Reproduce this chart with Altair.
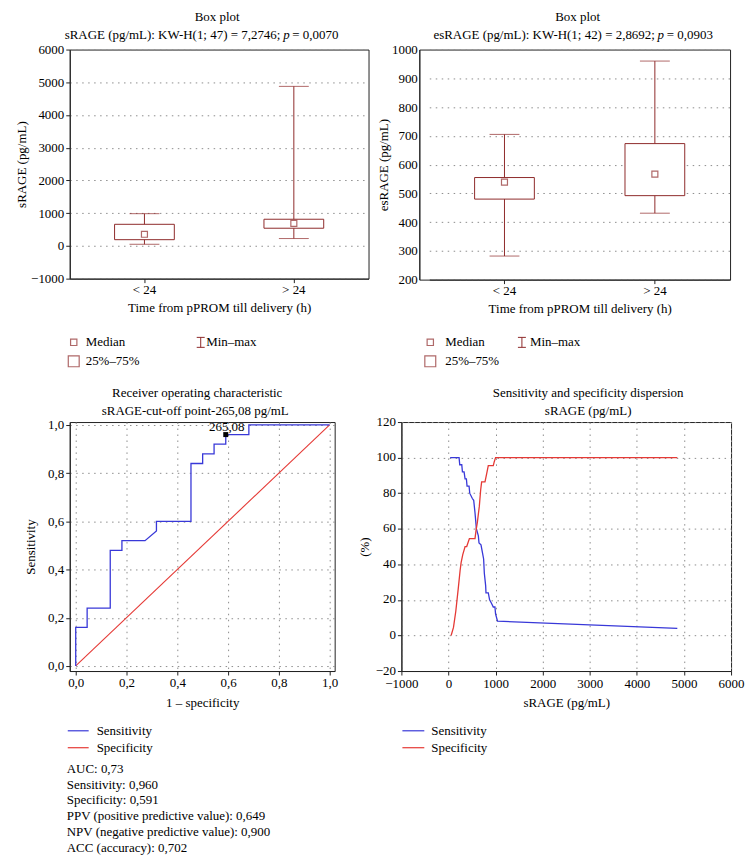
import altair as alt
import pandas as pd

FONT = "Liberation Serif"
BOX_COLOR = "#8E2A2A"
BLUE = "#3838D8"
RED = "#E53935"
GRID_COLOR = "#8c8c8c"
GRID_DASH = [1.5, 4.5]

# ---------------- data ----------------
groups = ["< 24", "> 24"]
srage_min = [50, 225]
srage_q1 = [190, 540]
srage_median = [355, 690]
srage_q3 = [660, 815]
srage_max = [985, 4875]

esrage_min = [282, 431]
esrage_q1 = [480, 492]
esrage_median = [539, 567]
esrage_q3 = [555, 673]
esrage_max = [705, 960]

roc_fpr = [0, 0, 0.045, 0.045, 0.136, 0.136, 0.182, 0.182, 0.273, 0.318, 0.318,
           0.454, 0.454, 0.5, 0.5, 0.545, 0.545, 0.591, 0.591, 0.682, 0.682, 1.0]
roc_tpr = [0, 0.16, 0.16, 0.24, 0.24, 0.48, 0.48, 0.52, 0.52, 0.56, 0.60,
           0.60, 0.84, 0.84, 0.88, 0.88, 0.92, 0.92, 0.96, 0.96, 1.0, 1.0]
cutoff_fpr = [0.591]
cutoff_tpr = [0.96]
cutoff_label = ["265,08"]

sens_srage = [35, 225, 239, 282, 296, 331, 352, 380, 394, 437, 451, 507, 535, 563, 592,
              634, 648, 690, 718, 746, 761, 789, 796, 845, 873, 915, 951, 986, 1000, 1042, 4859]
sens_pct = [100, 100, 96, 96, 92, 92, 88, 88, 84, 84, 80, 77, 76, 69, 60,
            56, 52, 51, 47, 43, 35, 28, 24, 24, 20, 18, 16, 16, 12, 8, 4]
spec_srage = [56, 106, 155, 211, 246, 268, 303, 352, 387, 444, 563, 585, 613, 634, 655,
              683, 704, 775, 810, 845, 951, 972, 1000, 4859]
spec_pct = [0, 4.5, 13.6, 27.3, 36.4, 40.9, 45.5, 50, 50, 54.5, 54.5, 59.1, 63.6, 68.2, 72.7,
            81.8, 86.4, 86.4, 90.9, 95.5, 95.5, 97.7, 100, 100]

stats_lines = [
    "AUC: 0,73",
    "Sensitivity: 0,960",
    "Specificity: 0,591",
    "PPV (positive predictive value): 0,649",
    "NPV (negative predictive value): 0,900",
    "ACC (accuracy): 0,702",
]

dummy = pd.DataFrame({"k": [0]})


def txt(text, x, y, size=13, align="center", style="normal", baseline="middle", **kw):
    return alt.Chart(dummy).mark_text(
        text=text, font=FONT, fontSize=size, align=align, baseline=baseline,
        fontStyle=style, color="black", **kw
    ).encode(x=alt.value(x), y=alt.value(y))


def seg(x, x2, y, y2, color, width=1.0):
    return alt.Chart(dummy).mark_rule(color=color, strokeWidth=width).encode(
        x=alt.value(x), x2=alt.value(x2), y=alt.value(y), y2=alt.value(y2))


def sq(x, y, size):
    return alt.Chart(dummy).mark_square(size=size, filled=False, color=BOX_COLOR,
                                        strokeWidth=1.2).encode(x=alt.value(x), y=alt.value(y))


def box_panel(mins, q1, med, q3, maxs, ydomain, ystep, ytitle, width, height,
              part1, part3, p_x, title_x, leg, xrange, yaxis_opts):
    df = pd.DataFrame({"group": groups, "vmin": mins, "q1": q1, "med": med,
                       "q3": q3, "vmax": maxs})
    xenc = alt.X("group:N", sort=groups,
                 scale=alt.Scale(domain=groups, paddingInner=0, paddingOuter=0, range=xrange),
                 axis=alt.Axis(title="Time from pPROM till delivery (h)", labelAngle=0,
                               grid=False, labelPadding=1, titlePadding=5))
    ysc = alt.Scale(domain=ydomain, nice=False, zero=False)
    yax = alt.Axis(values=list(range(ydomain[0], ydomain[1] + 1, ystep)), format="d",
                   title=ytitle, grid=True, **yaxis_opts)
    base = alt.Chart(df)
    whisker = base.mark_rule(color=BOX_COLOR, strokeWidth=1).encode(
        x=xenc, y=alt.Y("vmin:Q", scale=ysc, axis=yax), y2="vmax:Q")
    box = base.mark_bar(width=60, fill="white", stroke=BOX_COLOR, strokeWidth=1).encode(
        x=xenc, y=alt.Y("q1:Q", scale=ysc, axis=yax), y2="q3:Q")
    cap_lo = base.mark_tick(size=30, thickness=1, orient="horizontal", color=BOX_COLOR).encode(
        x=xenc, y=alt.Y("vmin:Q", scale=ysc, axis=yax))
    cap_hi = base.mark_tick(size=30, thickness=1, orient="horizontal", color=BOX_COLOR).encode(
        x=xenc, y=alt.Y("vmax:Q", scale=ysc, axis=yax))
    median = base.mark_square(size=36, filled=False, fill="white", color=BOX_COLOR,
                              strokeWidth=1.2).encode(
        x=xenc, y=alt.Y("med:Q", scale=ysc, axis=yax))

    sqx, txx, ix, itx = leg
    ly1, ly2 = 294, 313
    layers = [
        whisker, box, cap_lo, cap_hi, median,
        txt("Box plot", title_x, -33),
        txt(part1, p_x - 6, -15, align="right"),
        txt("p", p_x, -15, style="italic"),
        txt(part3, p_x + 6, -15, align="left"),
        # legend
        sq(sqx, ly1, 40), txt("Median", txx, ly1, align="left"),
        sq(sqx, ly2, 120), txt("25%\u201375%", txx, ly2, align="left"),
        seg(ix, ix, ly1 - 5, ly1 + 5, BOX_COLOR), seg(ix - 4, ix + 4, ly1 - 5, ly1 - 5, BOX_COLOR),
        seg(ix - 4, ix + 4, ly1 + 5, ly1 + 5, BOX_COLOR),
        txt("Min\u2013max", itx, ly1, align="left"),
    ]
    return alt.layer(*layers).properties(width=width, height=height)


tl = box_panel(srage_min, srage_q1, srage_median, srage_q3, srage_max,
               [-1000, 6000], 1000, "sRAGE (pg/mL)", 300, 230,
               "sRAGE (pg/mL): KW-H(1; 47) = 7,2746;", "= 0,0070", 217.5, 148,
               (4, 16, 131.5, 137), [0, 300], {"titlePadding": 2})
tr = box_panel(esrage_min, esrage_q1, esrage_median, esrage_q3, esrage_max,
               [200, 1000], 100, "esRAGE (pg/mL)", 312, 231,
               "esRAGE (pg/mL): KW-H(1; 42) = 2,8692;", "= 0,0903", 242.5, 159,
               (11, 26, 103, 111), [10, 312],
               {"titlePadding": 1, "tickSize": 0, "labelPadding": 2})

# ---------------- ROC ----------------
comma_fmt = "replace(format(datum.value, '.1f'), '.', ',')"
roc_df = pd.DataFrame({"fpr": roc_fpr, "tpr": roc_tpr, "i": list(range(len(roc_fpr)))})
rxs = alt.Scale(domain=[-0.0235, 1.02], nice=False, zero=False)
rys = alt.Scale(domain=[-0.021, 1.012], nice=False, zero=False)
ticks01 = [0, 0.2, 0.4, 0.6, 0.8, 1.0]
rxa = alt.Axis(values=ticks01, labelExpr=comma_fmt, title="1 \u2013 specificity", grid=True,
               titlePadding=7)
rya = alt.Axis(values=ticks01, labelExpr=comma_fmt, title="Sensitivity", grid=True,
               titlePadding=10)

roc_line = alt.Chart(roc_df).mark_line(color=BLUE, strokeWidth=1.3).encode(
    x=alt.X("fpr:Q", scale=rxs, axis=rxa), y=alt.Y("tpr:Q", scale=rys, axis=rya),
    order="i:Q")
diag = alt.Chart(pd.DataFrame({"fpr": [0, 1], "tpr": [0, 1]})).mark_line(
    color=RED, strokeWidth=1.1).encode(
    x=alt.X("fpr:Q", scale=rxs, axis=rxa), y=alt.Y("tpr:Q", scale=rys, axis=rya))
cut_df = pd.DataFrame({"fpr": cutoff_fpr, "tpr": cutoff_tpr, "lab": cutoff_label})
cut_pt = alt.Chart(cut_df).mark_square(size=25, color="black", opacity=1).encode(
    x=alt.X("fpr:Q", scale=rxs, axis=rxa), y=alt.Y("tpr:Q", scale=rys, axis=rya))
cut_txt = alt.Chart(cut_df).mark_text(font=FONT, fontSize=13, dy=-8, dx=1,
                                      color="black").encode(
    x=alt.X("fpr:Q", scale=rxs, axis=rxa), y=alt.Y("tpr:Q", scale=rys, axis=rya),
    text="lab:N")

bl = alt.layer(
    diag, roc_line, cut_pt, cut_txt,
    txt("Receiver operating characteristic", 128, -29),
    txt("sRAGE-cut-off point-265,08 pg/mL", 126, -11),
    seg(-2, 19, 310, 310, BLUE, 1.2), txt("Sensitivity", 27, 310, align="left"),
    seg(-2, 19, 327, 327, RED, 1.2), txt("Specificity", 27, 327, align="left"),
    txt(stats_lines, -3, 342, align="left", baseline="top", lineHeight=16),
).properties(width=266, height=250)

# ---------------- Sensitivity / specificity dispersion ----------------
disp_df = pd.concat([
    pd.DataFrame({"srage": sens_srage, "pct": sens_pct, "series": "Sensitivity",
                  "i": list(range(len(sens_srage)))}),
    pd.DataFrame({"srage": spec_srage, "pct": spec_pct, "series": "Specificity",
                  "i": list(range(len(spec_srage)))}),
])
dxs = alt.Scale(domain=[-1000, 6000], nice=False, zero=False)
dys = alt.Scale(domain=[-20, 120], nice=False, zero=False)
disp_lines = alt.Chart(disp_df).mark_line(strokeWidth=1.3).encode(
    x=alt.X("srage:Q", scale=dxs,
            axis=alt.Axis(values=list(range(-1000, 6001, 1000)), format="d",
                          title="sRAGE (pg/mL)", grid=True, labelPadding=3, titlePadding=6)),
    y=alt.Y("pct:Q", scale=dys,
            axis=alt.Axis(values=list(range(-20, 121, 20)), format="d", title="(%)",
                          grid=True, labelOffset=-1)),
    color=alt.Color("series:N", scale=alt.Scale(domain=["Sensitivity", "Specificity"],
                                                range=[BLUE, RED]), legend=None),
    order="i:Q")

br = alt.layer(
    disp_lines,
    txt("Sensitivity and specificity dispersion", 187.5, -29),
    txt("sRAGE (pg/mL)", 187.5, -11),
    seg(1, 23, 310, 310, BLUE, 1.2), txt("Sensitivity", 30, 310, align="left"),
    seg(1, 23, 327, 327, RED, 1.2), txt("Specificity", 30, 327, align="left"),
).properties(width=331, height=250)

top_row = alt.hconcat(tl, tr, spacing=51, bounds="flush")
bottom_row = alt.hconcat(bl, br, spacing=67, bounds="flush")

chart = alt.vconcat(top_row, bottom_row, spacing=374, bounds="flush").properties(
    padding={"left": 7, "top": 0, "right": 0, "bottom": 0},
    background="white",
).configure_view(
    stroke="#222", strokeWidth=1
).configure_axis(
    labelFont=FONT, titleFont=FONT, labelFontSize=13, titleFontSize=13,
    titleFontWeight="normal", labelColor="black", titleColor="black",
    domainColor="#222", tickColor="#222", tickSize=4,
    gridColor=GRID_COLOR, gridDash=GRID_DASH, gridWidth=1,
    labelFlush=False, labelOverlap=False,
)

chart.save("out.html", embed_options={"renderer": "svg", "actions": False})
